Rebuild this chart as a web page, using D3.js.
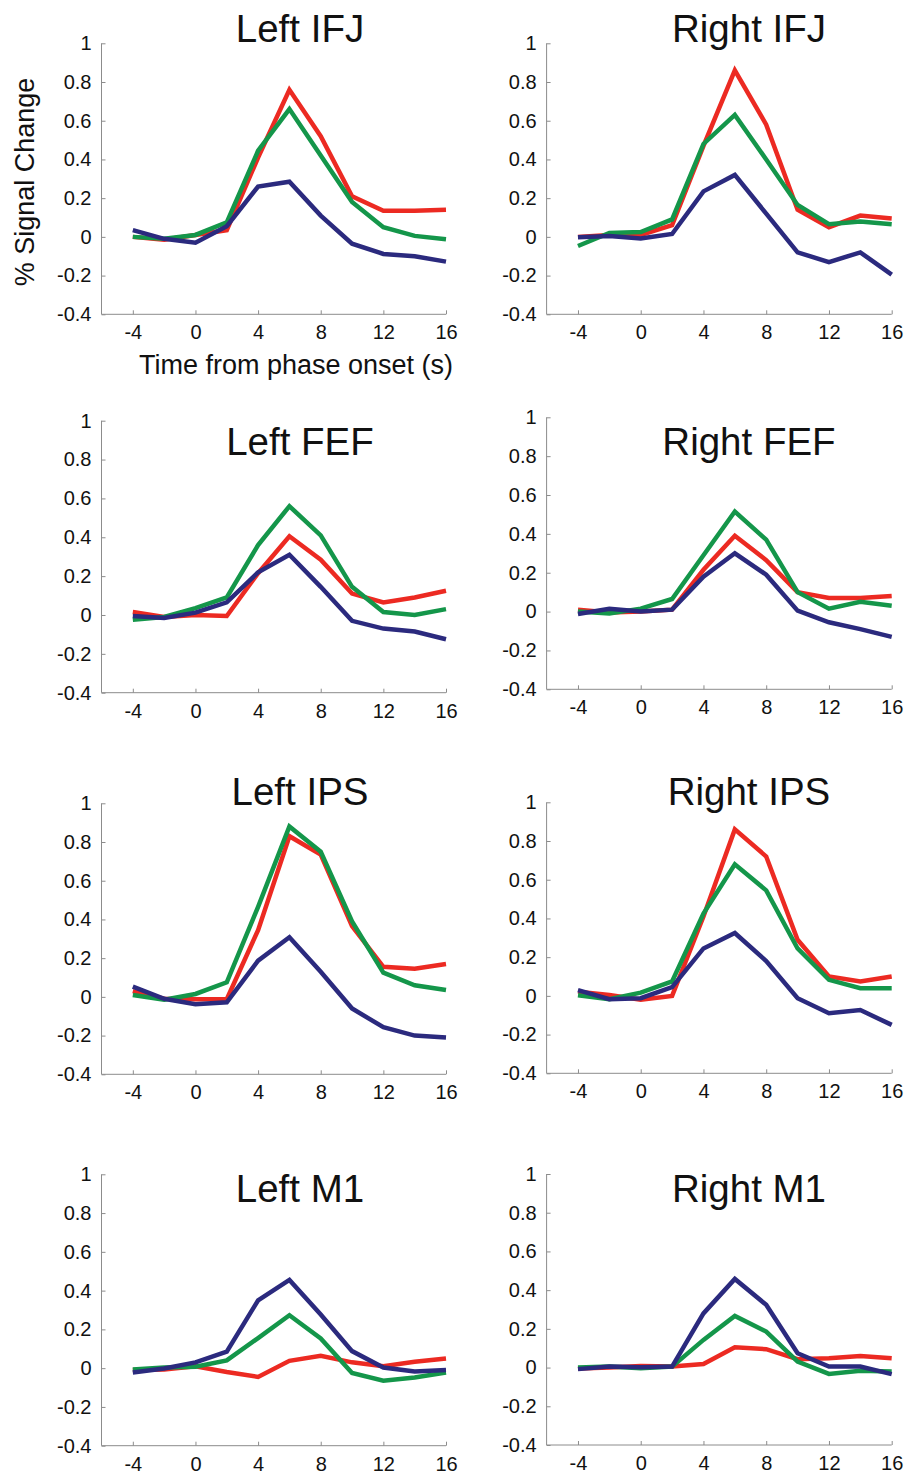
<!DOCTYPE html>
<html>
<head>
<meta charset="utf-8">
<script src="https://cdn.jsdelivr.net/npm/d3@7"></script>
<style>
  html, body { margin: 0; padding: 0; background: #ffffff; }
  svg { display: block; }
  text { font-family: "Liberation Sans", Arial, Helvetica, sans-serif; fill: #111111; }
</style>
</head>
<body>
<svg id="chart" width="909" height="1476"></svg>
<script>
// ---------- data ----------
const times = [-4, -2, 0, 2, 4, 6, 8, 10, 12, 14, 16];
const xTicks = [-4, 0, 4, 8, 12, 16];
const xTickLabels = ["-4", "0", "4", "8", "12", "16"];
const yTicks = [-0.4, -0.2, 0, 0.2, 0.4, 0.6, 0.8, 1];
const yTickLabels = ["-0.4", "-0.2", "0", "0.2", "0.4", "0.6", "0.8", "1"];
const regions = ["Left IFJ", "Right IFJ", "Left FEF", "Right FEF", "Left IPS", "Right IPS", "Left M1", "Right M1"];
const seriesNames = ["red", "green", "blue"];
const seriesColors = ["#ec2a22", "#14964a", "#2b2a7e"];

const redValues = [
  [0.0, -0.015, 0.01, 0.035, 0.41, 0.76, 0.52, 0.21, 0.135, 0.135, 0.14],
  [0.0, 0.01, 0.01, 0.06, 0.47, 0.86, 0.58, 0.14, 0.05, 0.11, 0.095],
  [0.015, -0.01, 0.0, -0.005, 0.215, 0.405, 0.285, 0.11, 0.065, 0.09, 0.125],
  [0.01, -0.005, 0.0, 0.01, 0.215, 0.39, 0.265, 0.1, 0.07, 0.07, 0.08],
  [0.03, -0.01, -0.012, -0.012, 0.345, 0.83, 0.735, 0.365, 0.155, 0.145, 0.17],
  [0.022, 0.005, -0.02, 0.0, 0.41, 0.86, 0.72, 0.29, 0.1, 0.075, 0.1],
  [-0.01, -0.007, 0.01, -0.02, -0.045, 0.038, 0.064, 0.03, 0.01, 0.033, 0.05],
  [-0.005, 0.0, 0.008, 0.005, 0.018, 0.105, 0.095, 0.043, 0.048, 0.06, 0.048]
];
const greenValues = [
  [0.0, -0.01, 0.01, 0.075, 0.445, 0.66, 0.42, 0.18, 0.05, 0.005, -0.012],
  [-0.047, 0.02, 0.025, 0.09, 0.48, 0.63, 0.40, 0.165, 0.065, 0.08, 0.065],
  [-0.025, -0.01, 0.035, 0.09, 0.36, 0.56, 0.41, 0.145, 0.015, 0.0, 0.03],
  [0.0, -0.01, 0.015, 0.065, 0.29, 0.515, 0.37, 0.1, 0.015, 0.05, 0.03],
  [0.01, -0.015, 0.015, 0.075, 0.465, 0.88, 0.75, 0.39, 0.125, 0.06, 0.035],
  [0.003, -0.017, 0.017, 0.075, 0.425, 0.68, 0.545, 0.245, 0.083, 0.04, 0.04],
  [-0.007, 0.003, 0.007, 0.04, 0.155, 0.273, 0.153, -0.025, -0.065, -0.048, -0.022],
  [0.0, 0.005, -0.003, 0.005, 0.143, 0.267, 0.186, 0.031, -0.033, -0.017, -0.02]
];
const blueValues = [
  [0.035, -0.01, -0.03, 0.055, 0.26, 0.285, 0.11, -0.035, -0.088, -0.10, -0.128],
  [-0.002, 0.005, -0.008, 0.015, 0.235, 0.32, 0.12, -0.08, -0.13, -0.08, -0.195],
  [-0.005, -0.015, 0.012, 0.065, 0.22, 0.31, 0.145, -0.03, -0.07, -0.085, -0.125],
  [-0.012, 0.015, 0.0, 0.01, 0.18, 0.3, 0.19, 0.005, -0.055, -0.09, -0.13],
  [0.053, -0.01, -0.038, -0.028, 0.187, 0.308, 0.13, -0.06, -0.157, -0.2, -0.21],
  [0.03, -0.017, -0.012, 0.045, 0.245, 0.325, 0.18, -0.012, -0.09, -0.073, -0.15],
  [-0.022, -0.002, 0.03, 0.085, 0.35, 0.455, 0.277, 0.088, 0.003, -0.017, -0.01],
  [-0.008, 0.005, 0.002, 0.005, 0.28, 0.458, 0.324, 0.074, 0.005, 0.005, -0.034]
];

// ---------- layout ----------
const svg = d3.select("#chart");
const colX = [[101.5, 446], [546.6, 891.7]];
const rowY = [
  [[43.3, 314.3], [43.3, 314.3]],
  [[420.7, 692.7], [417.3, 689.3]],
  [[803.3, 1074.3], [802.3, 1073.3]],
  [[1174.3, 1445.7], [1174, 1445]]
];
const titleBaseline = [42, 455, 805, 1202];
const titleCenter = [300, 749];
const axisColor = "#8c8c8c";
const tickFont = 20;

regions.forEach((name, i) => {
  const row = Math.floor(i / 2), col = i % 2;
  const [x0, x1] = colX[col];
  const [yTop, yBot] = rowY[row][col];
  const x = d3.scaleLinear().domain([-6, 16]).range([x0, x1]);
  const y = d3.scaleLinear().domain([-0.4, 1]).range([yBot, yTop]);
  const g = svg.append("g");

  // x axis
  const xa = g.append("g").attr("transform", `translate(0,${yBot})`)
    .call(d3.axisBottom(x).tickValues(xTicks).tickSize(-4).tickPadding(11)
      .tickFormat((d, k) => xTickLabels[k]));
  xa.select(".domain").attr("stroke", axisColor).attr("d", `M${x0},0H${x1}`);
  xa.selectAll(".tick line").attr("stroke", axisColor);
  xa.selectAll(".tick text").attr("font-size", tickFont).attr("fill", "#111")
    .style("font-family", '"Liberation Sans", Arial, sans-serif');

  // y axis
  const ya = g.append("g").attr("transform", `translate(${x0},0)`)
    .call(d3.axisLeft(y).tickValues(yTicks).tickSize(-4).tickPadding(10)
      .tickFormat((d, k) => yTickLabels[k]));
  ya.select(".domain").attr("stroke", axisColor).attr("d", `M0,${yBot}V${yTop}`);
  ya.selectAll(".tick line").attr("stroke", axisColor);
  ya.selectAll(".tick text").attr("font-size", tickFont).attr("fill", "#111")
    .style("font-family", '"Liberation Sans", Arial, sans-serif');

  // lines
  const line = d3.line().x((d, k) => x(times[k])).y(d => y(d));
  [redValues[i], greenValues[i], blueValues[i]].forEach((vals, s) => {
    g.append("path").datum(vals)
      .attr("d", line)
      .attr("fill", "none")
      .attr("stroke", seriesColors[s])
      .attr("stroke-width", 4.5)
      .attr("stroke-linejoin", "miter")
      .attr("stroke-linecap", "butt");
  });

  // title
  g.append("text")
    .attr("x", titleCenter[col]).attr("y", titleBaseline[row])
    .attr("text-anchor", "middle")
    .attr("font-size", 38.5)
    .text(name);
});

// axis labels
svg.append("text")
  .attr("transform", "translate(34,182) rotate(-90)")
  .attr("text-anchor", "middle")
  .attr("font-size", 27)
  .text("% Signal Change");

svg.append("text")
  .attr("x", 296).attr("y", 374)
  .attr("text-anchor", "middle")
  .attr("font-size", 27)
  .text("Time from phase onset (s)");
</script>
</body>
</html>
